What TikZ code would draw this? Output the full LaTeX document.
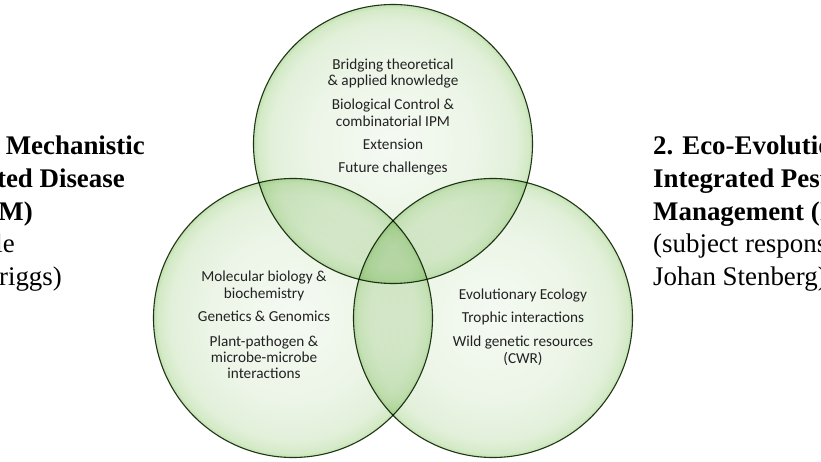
\documentclass[tikz,border=0pt]{standalone}
\usepackage{fontspec}
\setmainfont{Liberation Serif}
\newfontfamily\calibfont{Carlito}
\definecolor{vc0}{RGB}{245,250,243}
\definecolor{vc1}{RGB}{236,245,231}
\definecolor{vc2}{RGB}{226,240,218}
\definecolor{vc3}{RGB}{212,234,199}
\definecolor{vc4}{RGB}{194,225,177}
\definecolor{vline}{RGB}{38,58,28}
\definecolor{txt}{RGB}{34,34,34}
\pgfdeclareradialshading{vennshade}{\pgfpoint{0bp}{0bp}}{color(0bp)=(vc0); color(15bp)=(vc1); color(22bp)=(vc2); color(24.3bp)=(vc3); color(25bp)=(vc4); color(50bp)=(vc4)}
\begin{document}
\begin{tikzpicture}[x=1bp,y=-1bp,
  venn/.style={circle, minimum size=279bp, inner sep=0pt, shading=vennshade, draw=vline, line width=1.1bp},
  lab/.style={font=\calibfont\fontsize{15.3}{18}\selectfont, text=txt, inner sep=0pt, anchor=base},
  sideb/.style={font=\bfseries\fontsize{27}{31}\selectfont, inner sep=0pt},
  sider/.style={font=\fontsize{27}{31}\selectfont, inner sep=0pt}]
\useasboundingbox (0,0) rectangle (821,462);
\clip (0,0) rectangle (821,462);
\fill[white] (0,0) rectangle (821,462);
\begin{scope}[blend mode=multiply]
  \node[venn] (ct) at (393,144) {};
  \node[venn] (cl) at (293,318) {};
  \node[venn] (cr) at (493,318) {};
\end{scope}
% top circle
\node[lab] (t1) at (393,70) {Bridging theoretical};
\node[lab] (t2) at (393,86) {\& applied knowledge};
\node[lab] (t3) at (393,110) {Biological Control \&};
\node[lab] (t4) at (393,127) {combinatorial IPM};
\node[lab] (t5) at (393,150) {Extension};
\node[lab] (t6) at (393,173) {Future challenges};
% bottom-left circle
\node[lab] (l1) at (264,282) {Molecular biology \&};
\node[lab] (l2) at (264,299) {biochemistry};
\node[lab] (l3) at (264,322) {Genetics \& Genomics};
\node[lab] (l4) at (264,347) {Plant-pathogen \&};
\node[lab] (l5) at (264,363) {microbe-microbe};
\node[lab] (l6) at (264,379) {interactions};
% bottom-right circle
\node[lab] (r1) at (523,300) {Evolutionary Ecology};
\node[lab] (r2) at (523,323) {Trophic interactions};
\node[lab] (r3) at (523,347) {Wild genetic resources};
\node[lab] (r4) at (523,364) {(CWR)};
% left side text
\node[sideb, anchor=base east] (a1) at (145,155) {1. Mechanistic};
\node[sideb, anchor=base east] (a2) at (125,188) {Integrated Disease};
\node[sideb, anchor=base east] (a3) at (33,221) {Management (IDM)};
\node[sider, anchor=base east] (a4) at (15,253) {(subject responsible};
\node[sider, anchor=base east] (a5) at (62,286) {Laura Grenville-Briggs)};
% right side text
\node[sideb, anchor=base west] (b1) at (653,155) {2. Eco-Evolutionary};
\node[sideb, anchor=base west] (b2) at (653,188) {Integrated Pest};
\node[sideb, anchor=base west] (b3) at (653,221) {Management (IPM)};
\node[sider, anchor=base west] (b4) at (653,253) {(subject responsible};
\node[sider, anchor=base west] (b5) at (653,286) {Johan Stenberg)};
\end{tikzpicture}
\end{document}
